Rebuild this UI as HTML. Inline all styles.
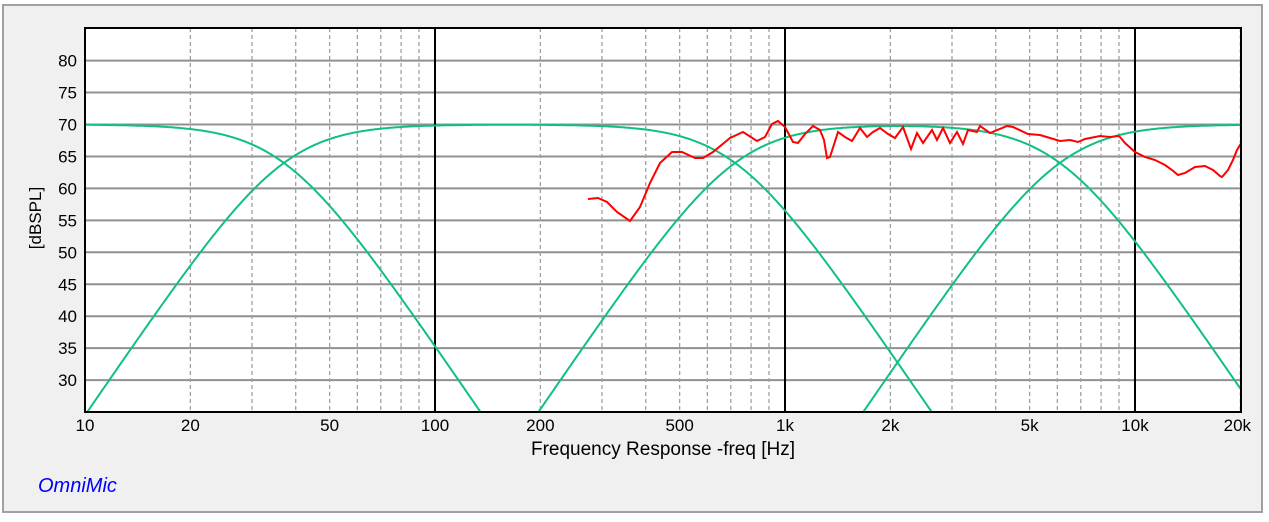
<!DOCTYPE html>
<html><head><meta charset="utf-8"><style>
body{margin:0;background:#fff;width:1269px;height:517px;overflow:hidden;font-family:"Liberation Sans",sans-serif}
</style></head><body>
<svg id="s" width="1269" height="517" xmlns="http://www.w3.org/2000/svg" font-family="Liberation Sans, sans-serif">
<rect x="0" y="0" width="1269" height="517" fill="#fff"/>
<rect x="3" y="5" width="1259" height="507" fill="#f0f0f0" stroke="#a0a0a0" stroke-width="2"/>
<rect x="85" y="28" width="1156" height="384" fill="#fff"/>
<defs><clipPath id="c"><rect x="85" y="28" width="1156" height="383"/></clipPath></defs>
<g id="grid"></g>
<g id="curves" clip-path="url(#c)"></g>
<rect x="85" y="28" width="1156" height="384" fill="none" stroke="#000" stroke-width="2"/>
<g id="labels" font-size="17" fill="#000"></g>
<text x="663" y="455" font-size="19" text-anchor="middle">Frequency Response -freq [Hz]</text>
<text transform="translate(41,218) rotate(-90)" font-size="17" text-anchor="middle">[dBSPL]</text>
<text x="38" y="492" font-size="20" font-style="italic" fill="#0000ff">OmniMic</text>
</svg>
<script>
var NS="http://www.w3.org/2000/svg";
function X(f){return 85+350*Math.log10(f/10);}
function Y(d){return 124.5-(d-70)*6.39;}
function el(p,t,a,txt){var e=document.createElementNS(NS,t);for(var k in a)e.setAttribute(k,a[k]);if(txt)e.textContent=txt;document.getElementById(p).appendChild(e);return e;}
for(var d=30;d<=80;d+=5){el("grid","line",{x1:85,x2:1241,y1:Y(d),y2:Y(d),stroke:"#909090","stroke-width":2});
 el("labels","text",{x:77,y:Y(d)+6,"text-anchor":"end"},""+d);}
[10,100,1000,10000].forEach(function(dec){for(var m=1;m<10;m++){var f=dec*m;if(f>20000)break;var x=X(f);
 if(m==1){if(dec>10)el("grid","line",{x1:x,x2:x,y1:28,y2:412,stroke:"#000","stroke-width":2});}
 else el("grid","line",{x1:x,x2:x,y1:28,y2:412,stroke:"#a0a0a0","stroke-width":1.3,"stroke-dasharray":"4,3"});}});
var xl=[[10,"10"],[20,"20"],[50,"50"],[100,"100"],[200,"200"],[500,"500"],[1000,"1k"],[2000,"2k"],[5000,"5k"],[10000,"10k"],[20000,"20k"]];
xl.forEach(function(a){el("labels","text",{x:X(a[0])+(a[0]==20000?-3:0),y:431,"text-anchor":"middle"},a[1]);});
function lp(f,fc){return -20*Math.log10(1+Math.pow(f/fc,4));}
function hp(f,fc){return -20*Math.log10(1+Math.pow(fc/f,4));}
var fns=[function(f){return 70+lp(f,37);},function(f){return 70+hp(f,37)+lp(f,720);},function(f){return 70+hp(f,720)+lp(f,6100);},function(f){return 70+hp(f,6100);}];
fns.forEach(function(fn){var p="";for(var x=85;x<=1242;x+=1){var f=10*Math.pow(10,(x-85)/350);var y=Y(fn(f));if(y>430)y=430;p+=(p?"L":"M")+x+","+y.toFixed(1);}
 el("curves","path",{d:p,fill:"none",stroke:"#10c080","stroke-width":2});});
var r=[[588,199],[598,198],[607,202],[617,212],[630,221],[640,207],[650,183],[660,163],[672,152],[682,152],[695,158],[703,158],[713,152],[730,138],[743,132],[757,141],[765,137],[772,124],[778,121],[785,127],[793,142],[798,143],[805,134],[813,126],[820,130],[824,140],[827,158],[830,157],[838,132],[845,137],[852,141],[860,128],[867,137],[873,132],[880,128],[888,134],[895,138],[903,127],[911,149],[917,133],[923,143],[932,130],[937,140],[943,128],[950,143],[957,132],[963,144],[968,130],[977,132],[980,126],[990,133],[1007,126],[1013,127],[1028,134],[1040,135],[1050,138],[1060,141],[1070,140],[1078,142],[1085,139],[1090,138],[1100,136],[1110,137],[1118,136],[1120,137],[1125,143],[1135,152],[1145,157],[1155,160],[1165,165],[1172,170],[1178,175],[1185,173],[1195,167],[1205,166],[1213,170],[1220,176],[1222,177],[1228,170],[1233,160],[1237,150],[1240,145],[1242,144]];
el("curves","path",{d:"M"+r.map(function(p){return p[0]+","+p[1];}).join("L"),fill:"none",stroke:"#ff0000","stroke-width":2});
</script>
</body></html>
